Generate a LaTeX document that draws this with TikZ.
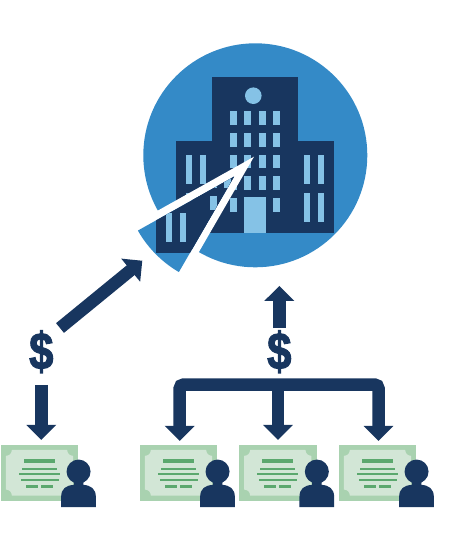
\documentclass[tikz,border=0pt]{standalone}
\usepackage{fontspec}
\setmainfont{Liberation Sans}
\newfontfamily\dollarfont[FakeBold=2.2]{Liberation Sans Bold}
\usetikzlibrary{arrows.meta}

\definecolor{navy}{HTML}{18365F}
\definecolor{disc}{HTML}{348AC7}
\definecolor{pane}{HTML}{85C2E6}
\definecolor{certedge}{HTML}{A9D2B0}
\definecolor{certface}{HTML}{D2E6D6}
\definecolor{certline}{HTML}{5BA86E}

\tikzset{
  flow/.style={draw=navy, line width=12.5pt, {-Triangle[width=29pt,length=15pt]}},
  officedisc/.style={circle, fill=disc, minimum size=224pt, inner sep=0},
  certbox/.style={fill=certedge, minimum width=77.3pt, minimum height=55.7pt, inner sep=0},
  dollar/.style={text=navy, font=\fontsize{52}{52}\dollarfont, minimum height=44pt, inner sep=0, xscale=0.84}
}

% the tower, its two wings and all the panes
\newcommand{\officebuilding}{
  \fill[navy] (212.3,76.7) rectangle (297.7,233.3);
  \fill[navy] (176,141.3) rectangle (334,233.3);
  \fill[pane] (253.3,95.7) circle (8.3);
  \foreach \px in {230,244.3,258.7,273.3}
    \foreach \py in {111,133,154.7,176.3}
      \fill[pane] (\px,\py) rectangle ++(6.8,13.7);
  \fill[pane] (230,198) rectangle ++(6.8,13.7);
  \fill[pane] (273.3,198) rectangle ++(6.8,13.7);
  \fill[pane] (244.3,197.3) rectangle (265.7,233.3);
  \foreach \px in {186,200,303.7,317.7}
    \foreach \py in {154.7,192.7}
      \fill[pane] (\px,\py) rectangle ++(6.2,29);
}

% sheet and holder, measured from the north west corner of a certbox
\newcommand{\certdetail}[1]{
  \begin{scope}[shift={(#1.north west)}]
    \fill[certface] (11,5) -- (66.3,5) .. controls (66.6,8.8) and (68.5,10.7) .. (72.3,11) -- (72.3,44.7)
      .. controls (68.5,45) and (66.6,46.9) .. (66.3,50.7) -- (11,50.7)
      .. controls (10.7,46.9) and (8.8,45) .. (5,44.7) -- (5,11)
      .. controls (8.8,10.7) and (10.7,8.8) .. (11,5) -- cycle;
    \fill[certline] (23,14) rectangle (54,18.3);
    \fill[certline] (21.3,22.7) rectangle (56,25);
    \fill[certline] (18.3,28) rectangle (59,30.3);
    \fill[certline] (20,33.7) rectangle (57.7,36);
    \fill[certline] (25,40.3) rectangle (36.7,42.7);
    \fill[certline] (40.3,40.3) rectangle (52.3,42.7);
    \fill[navy] (77.7,26.7) circle (12);
    \fill[navy] (60.3,62.3) -- (60.3,52) .. controls (60.3,44) and (65,40.5) .. (73,40) -- (73,34) -- (82.5,34) -- (82.5,40)
      .. controls (90,40.5) and (95,44) .. (95,52) -- (95,62.3) -- cycle;
  \end{scope}
}

\begin{document}
\begin{tikzpicture}[x=1pt, y=-1pt]
\useasboundingbox (0,0) rectangle (449,533);

\node[officedisc] (office) at (255.3,155.3) {};
\officebuilding
% Slice pulled out of the disc:
\fill[white] (254,156.7) -- (100,243) -- (170,302) -- cycle;
\begin{scope}[shift={(-20,20)}]
  \clip (254,156.7) -- (100,243) -- (170,302) -- cycle;
  \node[officedisc] (slice) at (255.3,155.3) {};
  \officebuilding
\end{scope}

\node[certbox] (certA) at (39.7,472.9) {};
\node[certbox] (certB) at (178.7,472.9) {};
\node[certbox] (certC) at (278,472.9) {};
\node[certbox] (certD) at (377.7,472.9) {};
\certdetail{certA}
\certdetail{certB}
\certdetail{certC}
\certdetail{certD}

\node[dollar] (dollarA) at (41.3,351.7) {\$};
\node[dollar] (dollarB) at (279.3,351.7) {\$};

\coordinate (riseA) at (60,328);
\coordinate (riseB) at (142.3,260.7);
\coordinate (barL) at (179.7,384.5);
\coordinate (barR) at (378.5,384.5);
\coordinate (barM) at (certC.north |- barL);

\draw[flow] (riseA)--(riseB);
\draw[flow, shorten <=11pt, shorten >=5pt] (dollarA.south)--(dollarA.south |- certA.north);
\draw[flow, shorten <=1.4pt, shorten >=18.4pt] (dollarB.north)--(dollarB.north |- office.south);
\draw[flow, {Triangle[width=29pt,length=15pt]}-{Triangle[width=29pt,length=15pt]}, rounded corners=4pt, shorten <=4pt, shorten >=4pt]
  (barL |- certB.north)--(barL)--(barR)--(barR |- certD.north);
\draw[flow, shorten >=5pt] (barM)--(certC.north);
\end{tikzpicture}
\end{document}
